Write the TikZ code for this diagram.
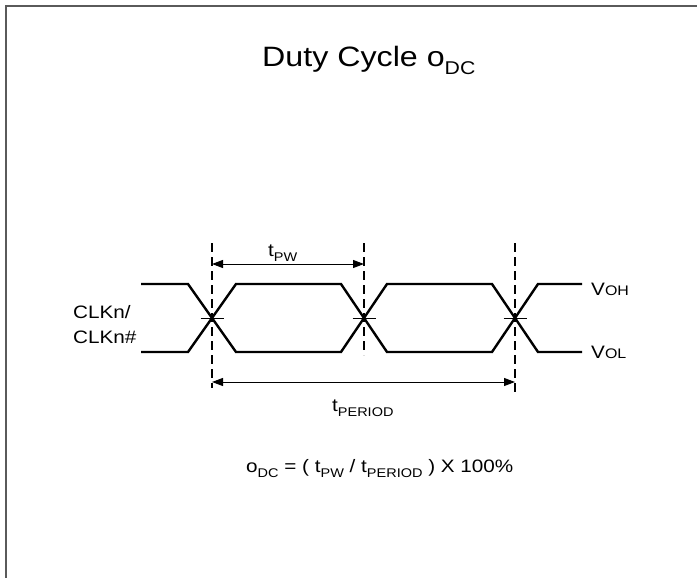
\documentclass[tikz,border=0pt]{standalone}
\usepackage{fontspec}
\setmainfont{Liberation Sans}[FakeStretch=1.15]
\usetikzlibrary{arrows.meta}
\newcommand\lowsub[2][0.7]{\raisebox{-0.28em}{\scalebox{#1}{#2}}}
\newcommand\smallcap[1]{\scalebox{0.77}{#1}}
\definecolor{framegray}{HTML}{5A5A5A}
\tikzset{
  sig/.style={line width=2.4pt, line join=miter},
  guide/.style={line width=1.1pt, dash pattern=on 9pt off 5pt},
  dim/.style={line width=1pt, {Triangle[length=11pt,width=8pt]}-{Triangle[length=11pt,width=8pt]}},
  tick/.style={line width=0.9pt},
  lbl/.style={inner sep=0pt, anchor=base west, font=\fontsize{18}{21}\selectfont},
}
\begin{document}
\begin{tikzpicture}[x=1pt,y=-1pt]
\useasboundingbox (0,0) rectangle (697,578);
\fill[white] (0,0) rectangle (697,578);
% frame (top and left only)
\draw[framegray, line width=2pt] (5.5,578) -- (5.5,6.5) -- (697,6.5);

% title
\node[inner sep=0pt, anchor=base west, font=\fontsize{28}{32}\selectfont] (title) at (262,67) {Duty Cycle o\lowsub[0.66]{DC}};

% crossing points
\coordinate (x1) at (212,318);
\coordinate (x2) at (364,318);
\coordinate (x3) at (515,318);

% guide lines
\coordinate (g1t) at (212,243); \coordinate (g1b) at (212,388);
\coordinate (g2t) at (364,243); \coordinate (g2b) at (364,355);
\coordinate (g3t) at (515,243); \coordinate (g3b) at (515,393);
\draw[guide] (g1t) -- (g1b);
\draw[guide] (g2t) -- (g2b);
\draw[guide] (g3t) -- (g3b);

% waveforms
\draw[sig] (141,284) -- (188,284) -- (236,352) -- (341,352) -- (387,284) -- (492,284) -- (538,352) -- (582,352);
\draw[sig] (141,352) -- (188,352) -- (236,284) -- (341,284) -- (387,352) -- (492,352) -- (538,284) -- (582,284);

% tick marks at crossings
\foreach \c in {x1,x2,x3} \draw[tick] ([xshift=-11.5pt]\c) -- ([xshift=11.5pt]\c);

% dimension arrows
\coordinate (pwL) at (212,264); \coordinate (pwR) at (364,264);
\coordinate (peL) at (212,382); \coordinate (peR) at (515,382);
\draw[dim] (pwL) -- (pwR);
\draw[dim] (peL) -- (peR);

% labels
\node[lbl] (tpw) at (268,256) {t\lowsub{PW}};
\node[lbl] (tper) at (332,411) {t\lowsub{PERIOD}};
\node[lbl] (clk1) at (73,318) {CLKn/};
\node[lbl] (clk2) at (73,343) {CLKn\#};
\node[lbl] (voh) at (591,295) {V\smallcap{OH}};
\node[lbl] (vol) at (591,358) {V\smallcap{OL}};
\node[lbl] (formula) at (246,472) {o\lowsub{DC} = ( t\lowsub{PW} / t\lowsub{PERIOD} ) X 100\%};
\end{tikzpicture}
\end{document}
